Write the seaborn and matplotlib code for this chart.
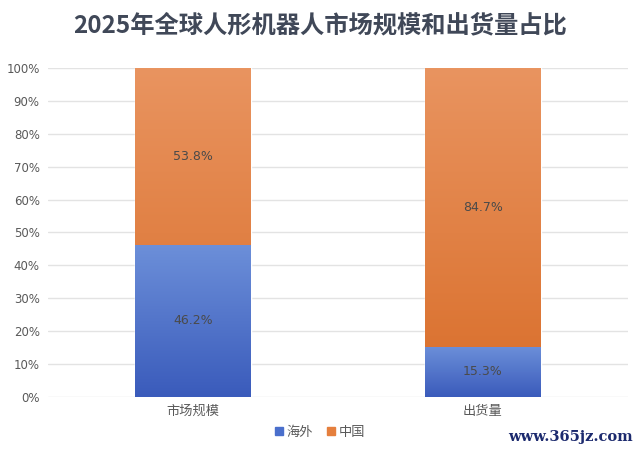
import numpy as np
import pandas as pd
import matplotlib
matplotlib.use('Agg')
import matplotlib.pyplot as plt
from matplotlib.colors import LinearSegmentedColormap
import seaborn as sns

categories = ['市场规模', '出货量']
overseas = [46.2, 15.3]
china = [53.8, 84.7]
series_names = ['海外', '中国']

sns.set_theme(style='white')
plt.rcParams['font.family'] = ['Noto Sans CJK SC', 'DejaVu Sans']

df = pd.DataFrame({'category': categories, '海外': overseas, '中国': china})
df['total'] = df['海外'] + df['中国']

fig = plt.figure(figsize=(6.4, 4.51), dpi=100)
ax = fig.add_axes([0.075, 0.12, 0.906, 0.729])

blue = '#4a6fcc'
orange = '#e57f3d'
# full height bar = 中国 on top, then 海外 drawn over it
sns.barplot(data=df, x='category', y='total', color=orange, width=0.4, ax=ax, saturation=1)
sns.barplot(data=df, x='category', y='海外', color=blue, width=0.4, ax=ax, saturation=1)

blue_cmap = LinearSegmentedColormap.from_list('b', ['#3a5bbb', '#6c8fd9'])
orange_cmap = LinearSegmentedColormap.from_list('o', ['#d96e2a', '#e99460'])
grad = np.linspace(0, 1, 256).reshape(-1, 1)
n = len(categories)
for i, p in enumerate(ax.patches):
    cmap = orange_cmap if i < n else blue_cmap
    x0, y0 = p.get_x(), p.get_y()
    w, h = p.get_width(), p.get_height()
    im = ax.imshow(grad, cmap=cmap, origin='lower', aspect='auto',
                   extent=[x0, x0 + w, y0, y0 + h], zorder=p.get_zorder())
    im.set_clip_path(p)

for i in range(n):
    ax.text(i, overseas[i] / 2, f'{overseas[i]}%', ha='center', va='center',
            fontsize=9, color='#4a4a4a', family=['DejaVu Sans'])
    ax.text(i, overseas[i] + china[i] / 2, f'{china[i]}%', ha='center', va='center',
            fontsize=9, color='#4a4a4a', family=['DejaVu Sans'])

ax.set_xlim(-0.5, 1.5)
ax.set_ylim(0, 100)
ax.set_yticks(range(0, 101, 10))
ax.set_yticklabels([f'{v}%' for v in range(0, 101, 10)], family=['DejaVu Sans'])
ax.yaxis.grid(True, color='#e3e3e3', linewidth=1)
ax.set_axisbelow(True)
ax.tick_params(axis='both', labelsize=8.5, colors='#595959', length=0, pad=6)
ax.tick_params(axis='x', labelsize=9.5, pad=6)
ax.set_xlabel('')
ax.set_ylabel('')
for s in ax.spines.values():
    s.set_visible(False)

handles = [plt.Rectangle((0, 0), 1, 1, color=blue), plt.Rectangle((0, 0), 1, 1, color=orange)]
fig.legend(handles, series_names, loc='center', bbox_to_anchor=(0.5, 0.042), ncol=2,
           frameon=False, fontsize=9.5, handlelength=0.6, handleheight=0.6,
           handletextpad=0.3, columnspacing=1.0, labelcolor='#595959')

fig.suptitle('2025年全球人形机器人市场规模和出货量占比', x=0.5, y=0.97,
             fontsize=17.5, fontweight='bold', color='#404858')

fig.text(0.988, 0.03, 'www.365jz.com', ha='right', va='center', fontsize=10.5,
         color='#1c2a6e', fontweight='bold', family=['DejaVu Serif'])

fig.savefig('out.png', dpi=100)
